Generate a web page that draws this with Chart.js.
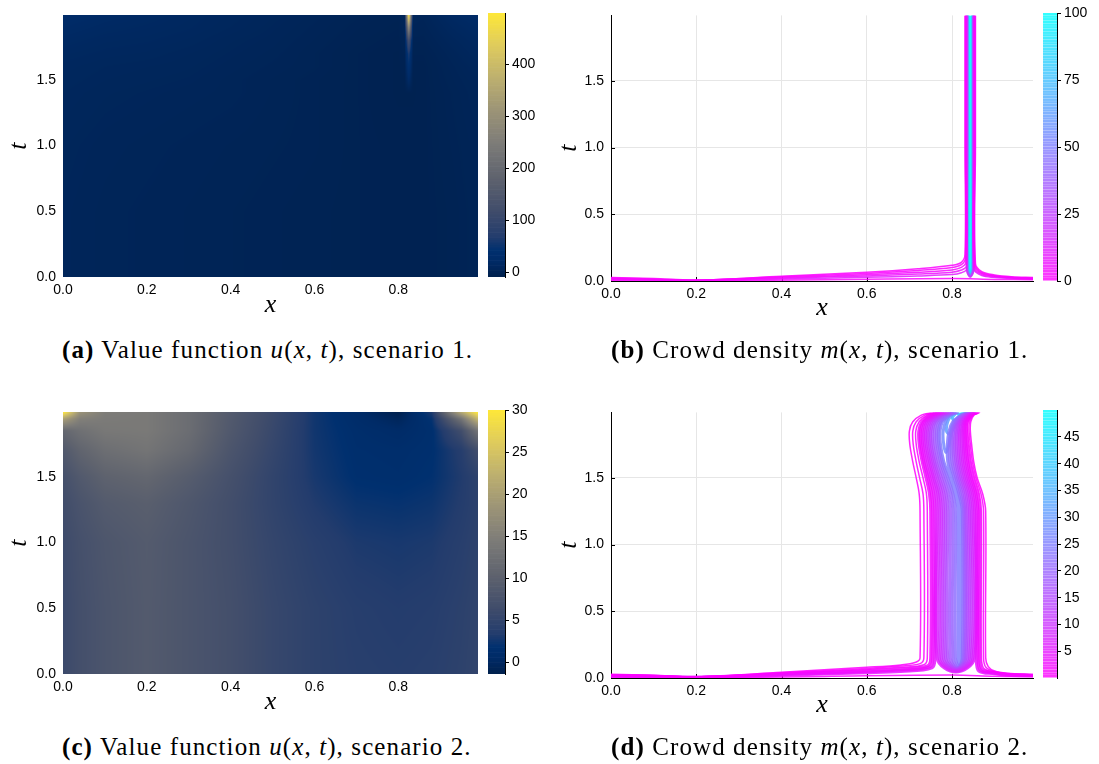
<!DOCTYPE html>
<html>
<head>
<meta charset="utf-8">
<script src="https://cdn.jsdelivr.net/npm/chart.js@4.4.1/dist/chart.umd.min.js"></script>
<style>
  body { margin: 0; background: #fff; }
  #page { position: relative; width: 1099px; height: 764px; overflow: hidden; }
  .box { position: absolute; }
  .cap { position: absolute; font-family: 'Liberation Serif', serif; font-size: 25px; letter-spacing: 1.1px; line-height: 26px; color: #000; white-space: nowrap; }
</style>
</head>
<body>
<div id="page">
  <div class="box" style="left:0;top:0;width:480px;height:325px"><canvas id="uA"></canvas></div>
  <div class="box" style="left:488px;top:0;width:70px;height:290px"><canvas id="cbA"></canvas></div>
  <div class="box" style="left:550px;top:0;width:485px;height:330px"><canvas id="mB"></canvas></div>
  <div class="box" style="left:1043px;top:0;width:56px;height:294px"><canvas id="cbB"></canvas></div>
  <div class="box" style="left:0;top:397px;width:480px;height:325px"><canvas id="uC"></canvas></div>
  <div class="box" style="left:488px;top:397px;width:70px;height:290px"><canvas id="cbC"></canvas></div>
  <div class="box" style="left:550px;top:397px;width:485px;height:330px"><canvas id="mD"></canvas></div>
  <div class="box" style="left:1043px;top:397px;width:56px;height:294px"><canvas id="cbD"></canvas></div>

  <div class="cap" style="left:62px;top:337px"><b>(a)</b> Value function <i>u</i>(<i>x</i>, <i>t</i>), scenario 1.</div>
  <div class="cap" style="left:611px;top:337px"><b>(b)</b> Crowd density <i>m</i>(<i>x</i>, <i>t</i>), scenario 1.</div>
  <div class="cap" style="left:62px;top:734px"><b>(c)</b> Value function <i>u</i>(<i>x</i>, <i>t</i>), scenario 2.</div>
  <div class="cap" style="left:611px;top:734px"><b>(d)</b> Crowd density <i>m</i>(<i>x</i>, <i>t</i>), scenario 2.</div>
</div>
<script>
// ---- axes ----
const xTicks = [0, 0.2, 0.4, 0.6, 0.8];
const tTicks = [0, 0.5, 1.0, 1.5];
const cbTicksA = [0, 100, 200, 300, 400];
const cbTicksB = [0, 25, 50, 75, 100];
const cbTicksC = [0, 5, 10, 15, 20, 25, 30];
const cbTicksD = [5, 10, 15, 20, 25, 30, 35, 40, 45];

// ---- value function, scenario 1 (grid nodes + values) ----
const uAx = [0, 0.1, 0.2, 0.3, 0.4, 0.5, 0.6, 0.7, 0.8, 0.815, 0.825, 0.835, 0.86, 0.93, 0.99];
const uAt = [0, 0.5, 1.0, 1.4, 1.5, 1.6, 1.7, 1.8, 1.9, 1.99];
const uA = [
  [6, 4, 3, 2, 1, 0, -1, -2, -3, -3, -3, -3, -3, -1, 2],
  [6, 4, 3, 2, 1, 0, -1, -2, -3, -3, -3, -3, -3, -1, 2],
  [7, 5, 4, 3, 2, 1, 0, -2, -3, -3, -3, -3, -3, 0, 3],
  [9, 7, 6, 5, 4, 2, 0, -2, -4, -4, -4, -4, -3, 1, 5],
  [10, 8, 7, 6, 4, 2, 0, -2, -4, -4, 20, -4, -3, 2, 6],
  [11, 9, 8, 7, 5, 3, 1, -2, -4, -3, 40, -3, -3, 3, 8],
  [13, 11, 10, 8, 6, 4, 1, -2, -4, -2, 65, -2, -2, 5, 11],
  [16, 13, 12, 10, 7, 5, 2, -1, -3, 0, 130, 0, 0, 8, 14],
  [20, 16, 14, 12, 9, 6, 3, 0, -2, 3, 290, 3, 2, 12, 18],
  [24, 19, 16, 13, 10, 7, 4, 1, -1, 5, 498, 5, 4, 16, 22]
];
const uARange = [-9, 498];

// ---- value function, scenario 2 ----
const uCx = [0, 0.04, 0.1, 0.2, 0.3, 0.4, 0.5, 0.6, 0.7, 0.8, 0.88, 0.95, 0.99];
const uCt = [0, 0.5, 1.0, 1.3, 1.5, 1.7, 1.85, 1.94, 1.99];
const uC = [
  [5.8, 6.8, 7.8, 8.8, 7.8, 6.8, 5.4, 4.4, 3.9, 3.7, 3.9, 4.4, 4.9],
  [5.8, 6.8, 7.8, 8.8, 7.8, 6.8, 5.4, 4.4, 3.7, 3.4, 3.6, 4.2, 4.7],
  [6.0, 7.0, 8.0, 8.9, 7.8, 6.6, 5.1, 3.9, 3.0, 2.8, 3.0, 3.8, 4.4],
  [6.4, 7.6, 8.9, 9.6, 8.2, 6.6, 4.8, 3.2, 2.2, 2.0, 2.3, 3.4, 4.2],
  [7.0, 8.6, 10.2, 11.0, 9.2, 7.0, 4.8, 2.8, 1.6, 1.4, 1.8, 3.2, 4.4],
  [8.5, 10.5, 12.2, 13.2, 11.2, 7.8, 5.2, 2.6, 1.4, 1.2, 1.6, 3.6, 6.5],
  [11.0, 12.5, 13.8, 14.0, 12.0, 8.4, 5.5, 2.5, 1.2, 0.6, 1.5, 6.5, 13.0],
  [20.0, 15.0, 14.2, 14.0, 12.0, 8.6, 5.7, 2.5, 0.9, -0.4, 2.0, 13.0, 23.0],
  [30.0, 18.0, 14.5, 14.0, 12.0, 8.8, 5.8, 2.5, 0.7, -1.3, 3.0, 21.0, 30.0]
];
const uCRange = [-1.4, 30];

// ---- crowd density, scenario 1: contour traces ----
const mRange1 = [0, 100];
const bandLevels1 = [1, 2, 4, 7, 12, 20, 30, 45, 60, 75, 88, 95, 99];
const bandLeft1 = [0.8305, 0.8315, 0.8325, 0.8335, 0.8343, 0.8350, 0.8357, 0.8364, 0.8370, 0.8376, 0.8385, 0.8398, 0.8412];
const bandRight1 = [0.8550, 0.8540, 0.8530, 0.8520, 0.8512, 0.8505, 0.8498, 0.8491, 0.8484, 0.8477, 0.8466, 0.8454, 0.8440];
const bandFoot1 = [0.20, 0.17, 0.14, 0.11, 0.09, 0.075, 0.08, 0.085, 0.09, 0.095, 0.10, 0.11, 0.12];
const bandBottom1 = [0, 0, 0, 0, 0, 0.030, 0.035, 0.040, 0.045, 0.050, 0.055, 0.062, 0.07];
const bandMid1 = 0.8427;
const fanX1 = [0, 0.1, 0.2, 0.4, 0.6, 0.72, 0.8, 0.822];
const fanT1 = [
  [0.026, 0.018, 0.007, 0.036, 0.066, 0.092, 0.118, 0.140],
  [0.022, 0.015, 0.006, 0.031, 0.057, 0.079, 0.101, 0.122],
  [0.018, 0.012, 0.005, 0.026, 0.047, 0.065, 0.083, 0.102],
  [0.014, 0.010, 0.004, 0.021, 0.038, 0.052, 0.066, 0.082],
  [0.010, 0.007, 0.003, 0.015, 0.028, 0.038, 0.048, 0.062]
];
const tailX1 = [0.87, 0.9, 0.94, 0.99];
const tailJoin1 = [0.13, 0.12, 0.11, 0.10, 0.09];
const tailT1 = [
  [0.070, 0.045, 0.032, 0.026],
  [0.062, 0.040, 0.029, 0.023],
  [0.055, 0.036, 0.026, 0.020],
  [0.048, 0.032, 0.023, 0.017],
  [0.040, 0.027, 0.019, 0.014]
];
const floorX = [0, 0.2, 0.5, 0.8, 0.9, 0.99];
const floorT1 = [0.006, 0.001, 0.010, 0.018, 0.012, 0.009];

// ---- crowd density, scenario 2: contour traces ----
const mRange2 = [0.05, 50];
const dSideT = [0.15, 1.25, 1.38, 1.5, 1.62, 1.75, 1.85, 1.92, 1.97, 1.99];
const dLevels = [0.3, 0.8, 1.5, 2.5, 3.5, 5, 6.5, 8, 10, 12, 14, 16, 18, 20, 22, 24];
const dLeft = [
  [0.725, 0.725, 0.723, 0.716, 0.708, 0.701, 0.700, 0.708, 0.728, 0.752],
  [0.734, 0.734, 0.732, 0.724, 0.716, 0.709, 0.708, 0.716, 0.736, 0.758],
  [0.742, 0.742, 0.740, 0.732, 0.723, 0.716, 0.715, 0.723, 0.742, 0.764],
  [0.750, 0.750, 0.747, 0.739, 0.730, 0.723, 0.722, 0.729, 0.748, 0.769],
  [0.755, 0.755, 0.752, 0.744, 0.734, 0.727, 0.726, 0.733, 0.752, 0.773],
  [0.760, 0.760, 0.757, 0.748, 0.738, 0.731, 0.730, 0.737, 0.756, 0.777],
  [0.765, 0.765, 0.762, 0.753, 0.743, 0.735, 0.734, 0.741, 0.760, 0.781],
  [0.770, 0.770, 0.767, 0.757, 0.747, 0.739, 0.738, 0.745, 0.764, 0.785],
  [0.775, 0.775, 0.771, 0.761, 0.751, 0.743, 0.742, 0.749, 0.768, 0.789],
  [0.780, 0.780, 0.776, 0.766, 0.755, 0.747, 0.746, 0.753, 0.772, 0.793],
  [0.785, 0.785, 0.781, 0.770, 0.759, 0.751, 0.750, 0.757, 0.776, 0.797],
  [0.790, 0.790, 0.786, 0.775, 0.763, 0.755, 0.754, 0.761, 0.780, 0.801],
  [0.796, 0.796, 0.791, 0.780, 0.768, 0.760, 0.759, 0.765, 0.784, 0.805],
  [0.802, 0.802, 0.797, 0.785, 0.773, 0.765, 0.764, 0.770, 0.788, 0.809],
  [0.808, 0.808, 0.802, 0.790, 0.777, 0.769, 0.768, 0.774, 0.792, 0.813],
  [0.814, 0.814, 0.807, 0.795, 0.781, 0.773, 0.772, 0.778, 0.796, 0.816]
];
const dRight = [
  [0.879, 0.879, 0.872, 0.859, 0.851, 0.846, 0.843, 0.844, 0.852, 0.866],
  [0.874, 0.874, 0.868, 0.856, 0.848, 0.843, 0.840, 0.841, 0.850, 0.864],
  [0.869, 0.869, 0.864, 0.853, 0.845, 0.840, 0.837, 0.838, 0.848, 0.862],
  [0.865, 0.865, 0.860, 0.849, 0.841, 0.836, 0.834, 0.835, 0.846, 0.860],
  [0.861, 0.861, 0.856, 0.845, 0.837, 0.833, 0.831, 0.833, 0.844, 0.858],
  [0.857, 0.857, 0.852, 0.841, 0.833, 0.829, 0.828, 0.830, 0.842, 0.856],
  [0.853, 0.853, 0.848, 0.837, 0.829, 0.826, 0.825, 0.828, 0.840, 0.854],
  [0.849, 0.849, 0.844, 0.833, 0.825, 0.822, 0.822, 0.826, 0.838, 0.852],
  [0.845, 0.845, 0.840, 0.829, 0.821, 0.818, 0.818, 0.823, 0.836, 0.850],
  [0.841, 0.841, 0.836, 0.825, 0.817, 0.814, 0.815, 0.820, 0.834, 0.848],
  [0.837, 0.837, 0.832, 0.821, 0.813, 0.810, 0.811, 0.817, 0.832, 0.846],
  [0.833, 0.833, 0.828, 0.817, 0.809, 0.806, 0.808, 0.814, 0.830, 0.844],
  [0.830, 0.830, 0.824, 0.813, 0.805, 0.802, 0.804, 0.811, 0.828, 0.842],
  [0.827, 0.827, 0.820, 0.809, 0.800, 0.798, 0.800, 0.808, 0.826, 0.840],
  [0.824, 0.824, 0.816, 0.805, 0.795, 0.794, 0.797, 0.805, 0.824, 0.838],
  [0.820, 0.820, 0.812, 0.800, 0.790, 0.789, 0.793, 0.802, 0.821, 0.836]
];
const dFanX = [0, 0.1, 0.2, 0.4, 0.6, 0.68];
const dFanT = [
  [0.028, 0.021, 0.009, 0.043, 0.080, 0.098],
  [0.025, 0.019, 0.008, 0.039, 0.072, 0.089],
  [0.022, 0.016, 0.007, 0.034, 0.064, 0.080],
  [0.019, 0.014, 0.006, 0.030, 0.055, 0.069],
  [0.016, 0.012, 0.005, 0.026, 0.047, 0.059],
  [0.013, 0.010, 0.004, 0.021, 0.039, 0.049]
];
const dFanElbow = [[0.715, 0.118], [0.725, 0.108], [0.734, 0.099], [0.742, 0.090], [0.748, 0.083], [0.753, 0.076]];
const dTailElbow = [[0.885, 0.085], [0.880, 0.078], [0.875, 0.071], [0.871, 0.064], [0.867, 0.058], [0.863, 0.052]];
const dTailX = [0.9, 0.93, 0.99];
const dTailT = [
  [0.052, 0.036, 0.027],
  [0.048, 0.033, 0.025],
  [0.044, 0.030, 0.023],
  [0.040, 0.027, 0.020],
  [0.036, 0.024, 0.018],
  [0.032, 0.021, 0.016]
];
const dBottomX = [0.809, 0.809, 0.810, 0.810, 0.811, 0.812, 0.813, 0.814, 0.816, 0.817];
const dBottomT = [0.045, 0.050, 0.055, 0.060, 0.065, 0.070, 0.075, 0.080, 0.090, 0.100];
const dTopLevels = [27, 31, 37, 43];
const dTopPaths = [
  [[0.800, 1.99], [0.786, 1.93], [0.779, 1.84], [0.781, 1.74], [0.786, 1.69], [0.792, 1.74], [0.799, 1.84], [0.814, 1.93], [0.834, 1.99]],
  [[0.805, 1.99], [0.791, 1.93], [0.787, 1.85], [0.794, 1.83], [0.807, 1.90], [0.822, 1.96], [0.832, 1.99]],
  [[0.811, 1.99], [0.801, 1.95], [0.806, 1.93], [0.819, 1.97], [0.829, 1.99]],
  [[0.817, 1.99], [0.815, 1.977], [0.823, 1.983], [0.827, 1.99]]
];
const floorT2 = [0.007, 0.001, 0.012, 0.022, 0.013, 0.010];

// ---- colours ----
const cividisStops = [
  [0.00, [0, 32, 77]], [0.06, [0, 43, 103]], [0.10, [0, 48, 111]], [0.15, [35, 60, 109]],
  [0.25, [65, 77, 107]], [0.375, [95, 99, 110]], [0.50, [124, 123, 120]], [0.625, [155, 147, 119]],
  [0.75, [188, 175, 111]], [0.875, [223, 203, 93]], [1.00, [254, 232, 56]]
];
function cividis(f) {
  f = Math.min(1, Math.max(0, f));
  for (let i = 1; i < cividisStops.length; i++) {
    const [f1, c1] = cividisStops[i];
    if (f <= f1) {
      const [f0, c0] = cividisStops[i - 1];
      const s = (f - f0) / (f1 - f0);
      return c0.map((c, k) => Math.round(c + (c1[k] - c) * s));
    }
  }
  return cividisStops[cividisStops.length - 1][1];
}
function coolColor(v, range, alpha) {
  const f = Math.min(1, Math.max(0, (v - range[0]) / (range[1] - range[0])));
  return `rgba(${Math.round(255 * (1 - f))},${Math.round(255 * f)},255,${alpha})`;
}

Chart.defaults.animation = false;
Chart.defaults.font.family = "'Liberation Sans', sans-serif";
Chart.defaults.color = '#000';

const tickFont = { family: "'Liberation Sans', sans-serif", size: 14 };
const labelFont = { family: "'Liberation Serif', serif", size: 26, style: 'italic' };

// ---- heatmap shading of a gridded field, placed through the chart scales ----
function locate(arr, v) {
  let i = 0;
  while (i < arr.length - 2 && v > arr[i + 1]) i++;
  const s = Math.min(1, Math.max(0, (v - arr[i]) / (arr[i + 1] - arr[i])));
  return [i, s];
}
const heatmapPlugin = {
  id: 'heatmap',
  beforeDatasetsDraw(chart, args, opts) {
    const { ctx, chartArea: a, scales } = chart;
    const x0 = Math.round(a.left), y0 = Math.round(a.top);
    const w = Math.round(a.right) - x0, h = Math.round(a.bottom) - y0;
    const off = document.createElement('canvas');
    off.width = w; off.height = h;
    const octx = off.getContext('2d');
    const img = octx.createImageData(w, h);
    const [lo, hi] = opts.range;
    const z = opts.z;
    for (let j = 0; j < h; j++) {
      const t = scales.y.getValueForPixel(y0 + j + 0.5);
      const [ti, ts] = locate(opts.ts, t);
      for (let i = 0; i < w; i++) {
        const x = scales.x.getValueForPixel(x0 + i + 0.5);
        const [xi, xs] = locate(opts.xs, x);
        const v = (z[ti][xi] * (1 - xs) + z[ti][xi + 1] * xs) * (1 - ts) +
                  (z[ti + 1][xi] * (1 - xs) + z[ti + 1][xi + 1] * xs) * ts;
        const c = cividis((v - lo) / (hi - lo));
        const p = (j * w + i) * 4;
        img.data[p] = c[0]; img.data[p + 1] = c[1]; img.data[p + 2] = c[2]; img.data[p + 3] = 255;
      }
    }
    octx.putImageData(img, 0, 0);
    ctx.drawImage(off, x0, y0);
  }
};

// short tick marks drawn inward from the axis lines
const innerTicks = {
  id: 'innerTicks',
  beforeDatasetsDraw(chart) {
    const { ctx, chartArea: a, scales: { x, y } } = chart;
    ctx.save();
    ctx.strokeStyle = '#000';
    ctx.lineWidth = 1;
    x.ticks.forEach(tk => {
      const px = Math.round(x.getPixelForValue(tk.value)) + 0.5;
      ctx.beginPath(); ctx.moveTo(px, a.bottom); ctx.lineTo(px, a.bottom - 4); ctx.stroke();
    });
    y.ticks.forEach(tk => {
      const py = Math.round(y.getPixelForValue(tk.value)) + 0.5;
      ctx.beginPath(); ctx.moveTo(a.left, py); ctx.lineTo(a.left + 4, py); ctx.stroke();
    });
    ctx.restore();
  }
};

function mainScales(o) {
  return {
    x: {
      type: 'linear', min: 0, max: 0.99,
      afterBuildTicks: s => { s.ticks = xTicks.map(v => ({ value: v })); },
      afterFit: s => { s.height = o.xh; },
      ticks: { callback: v => v.toFixed(1), font: tickFont, color: '#000', padding: 5, maxRotation: 0, autoSkip: false },
      grid: { display: o.grid, color: '#e6e6e6', lineWidth: 1, drawTicks: false },
      border: { display: o.grid, color: '#000', width: 1 },
      title: { display: true, text: 'x', font: labelFont, color: '#000', padding: { top: 0, bottom: o.xpad } }
    },
    y: {
      type: 'linear', min: 0, max: 1.99,
      afterBuildTicks: s => { s.ticks = tTicks.map(v => ({ value: v })); },
      afterFit: s => { s.width = o.yw; },
      ticks: { callback: v => v.toFixed(1), font: tickFont, color: '#000', padding: 7, autoSkip: false },
      grid: { display: o.grid, color: '#e6e6e6', lineWidth: 1, drawTicks: false },
      border: { display: o.grid, color: '#000', width: 1 },
      title: { display: true, text: 't', font: labelFont, color: '#000', padding: { top: 4, bottom: 0 } }
    }
  };
}

function heatmapChart(id, xs, ts, z, range) {
  return new Chart(document.getElementById(id), {
    type: 'scatter',
    data: { datasets: [] },
    plugins: [heatmapPlugin],
    options: {
      responsive: true, maintainAspectRatio: false,
      layout: { padding: { top: 13, right: 2, left: 0, bottom: 0 } },
      scales: mainScales({ grid: false, xh: 48, xpad: 4, yw: 63 }),
      plugins: { legend: { display: false }, tooltip: { enabled: false }, heatmap: { xs, ts, z, range } }
    }
  });
}

function contourChart(id, datasets) {
  return new Chart(document.getElementById(id), {
    type: 'scatter',
    data: { datasets },
    plugins: [innerTicks],
    options: {
      responsive: true, maintainAspectRatio: false,
      layout: { padding: { top: 13, right: 2, left: 0, bottom: 0 } },
      scales: mainScales({ grid: true, xh: 49, xpad: 6, yw: 61 }),
      plugins: { legend: { display: false }, tooltip: { enabled: false } }
    }
  });
}

function colorbarChart(id, range, ticks, n, colorFn, gap, boxWidth, barWidth) {
  const [lo, hi] = range;
  const step = (hi - lo) / n;
  const datasets = [];
  for (let i = 0; i < n; i++) {
    const a = lo + i * step;
    datasets.push({
      data: [[a + gap * step, a + step]],
      backgroundColor: colorFn(a + step / 2),
      borderWidth: 0, barPercentage: 1, categoryPercentage: 1, grouped: false
    });
  }
  return new Chart(document.getElementById(id), {
    type: 'bar',
    data: { labels: [''], datasets },
    options: {
      responsive: true, maintainAspectRatio: false,
      layout: { padding: { top: 13, bottom: 13, left: 0, right: 0 } },
      scales: {
        x: { display: false },
        y: {
          position: 'right', min: lo, max: hi,
          afterBuildTicks: s => { s.ticks = ticks.map(v => ({ value: v })); },
          afterFit: s => { s.width = boxWidth - barWidth; },
          ticks: { font: tickFont, color: '#000', padding: 3, autoSkip: false },
          grid: { drawOnChartArea: false, drawTicks: true, tickLength: 4, color: '#000' },
          border: { display: true, color: '#000', width: 1 }
        }
      },
      plugins: { legend: { display: false }, tooltip: { enabled: false } }
    }
  });
}

function pathSet(pts, level, range, width) {
  return {
    data: pts.map(p => ({ x: p[0], y: p[1] })),
    showLine: true, pointRadius: 0, fill: false, tension: 0.35,
    borderColor: coolColor(level, range, 0.85), borderWidth: width
  };
}

// ---- scenario 1 density traces ----
const setsB = [];
setsB.push(pathSet(floorX.map((x, i) => [x, floorT1[i]]), 1, mRange1, 1.5));
bandLevels1.forEach((lev, k) => {
  const L = bandLeft1[k], R = bandRight1[k];
  if (k < fanT1.length) {
    const left = fanX1.map((x, i) => [x, fanT1[k][i]]).concat([[L, bandFoot1[k]], [L, 1.0], [L, 1.99]]);
    const right = [[R, 1.99], [R, 1.0], [R, tailJoin1[k]]].concat(tailX1.map((x, i) => [x, tailT1[k][i]]));
    setsB.push(pathSet(left, lev, mRange1, 1.5), pathSet(right, lev, mRange1, 1.5));
  } else {
    setsB.push(pathSet([[L, 1.99], [L, 1.0], [L, bandFoot1[k]], [bandMid1, bandBottom1[k]],
                        [R, bandFoot1[k]], [R, 1.0], [R, 1.99]], lev, mRange1, 1.8));
  }
});

// ---- scenario 2 density traces ----
const setsD = [];
setsD.push(pathSet(floorX.map((x, i) => [x, floorT2[i]]), 1, mRange2, 1.5));
dLevels.forEach((lev, k) => {
  const leftSide = dSideT.map((t, i) => [dLeft[k][i], t]);
  const rightSide = dSideT.map((t, i) => [dRight[k][i], t]).reverse();
  const w = k < 3 ? 1.5 : 3.0;
  if (k < dFanT.length) {
    const left = dFanX.map((x, i) => [x, dFanT[k][i]]).concat([dFanElbow[k]], leftSide);
    const right = rightSide.concat([dTailElbow[k]], dTailX.map((x, i) => [x, dTailT[k][i]]));
    setsD.push(pathSet(left, lev, mRange2, w), pathSet(right, lev, mRange2, w));
  } else {
    const b = k - dFanT.length;
    const loop = leftSide.slice().reverse().concat([[dBottomX[b], dBottomT[b]]], rightSide.slice().reverse());
    setsD.push(pathSet(loop, lev, mRange2, w));
  }
});
dTopLevels.forEach((lev, k) => setsD.push(pathSet(dTopPaths[k], lev, mRange2, 3.0)));

// ---- build the four panels ----
const cividisCss = range => v => {
  const c = cividis((v - range[0]) / (range[1] - range[0]));
  return `rgb(${c[0]},${c[1]},${c[2]})`;
};
heatmapChart('uA', uAx, uAt, uA, uARange);
colorbarChart('cbA', uARange, cbTicksA, 160, cividisCss(uARange), 0, 70, 17);
contourChart('mB', setsB);
colorbarChart('cbB', mRange1, cbTicksB, 100, v => coolColor(v, mRange1, 0.8), 0.3, 56, 14);
heatmapChart('uC', uCx, uCt, uC, uCRange);
colorbarChart('cbC', uCRange, cbTicksC, 160, cividisCss(uCRange), 0, 70, 17);
contourChart('mD', setsD);
colorbarChart('cbD', mRange2, cbTicksD, 100, v => coolColor(v, mRange2, 0.8), 0.3, 56, 14);
</script>
</body>
</html>
